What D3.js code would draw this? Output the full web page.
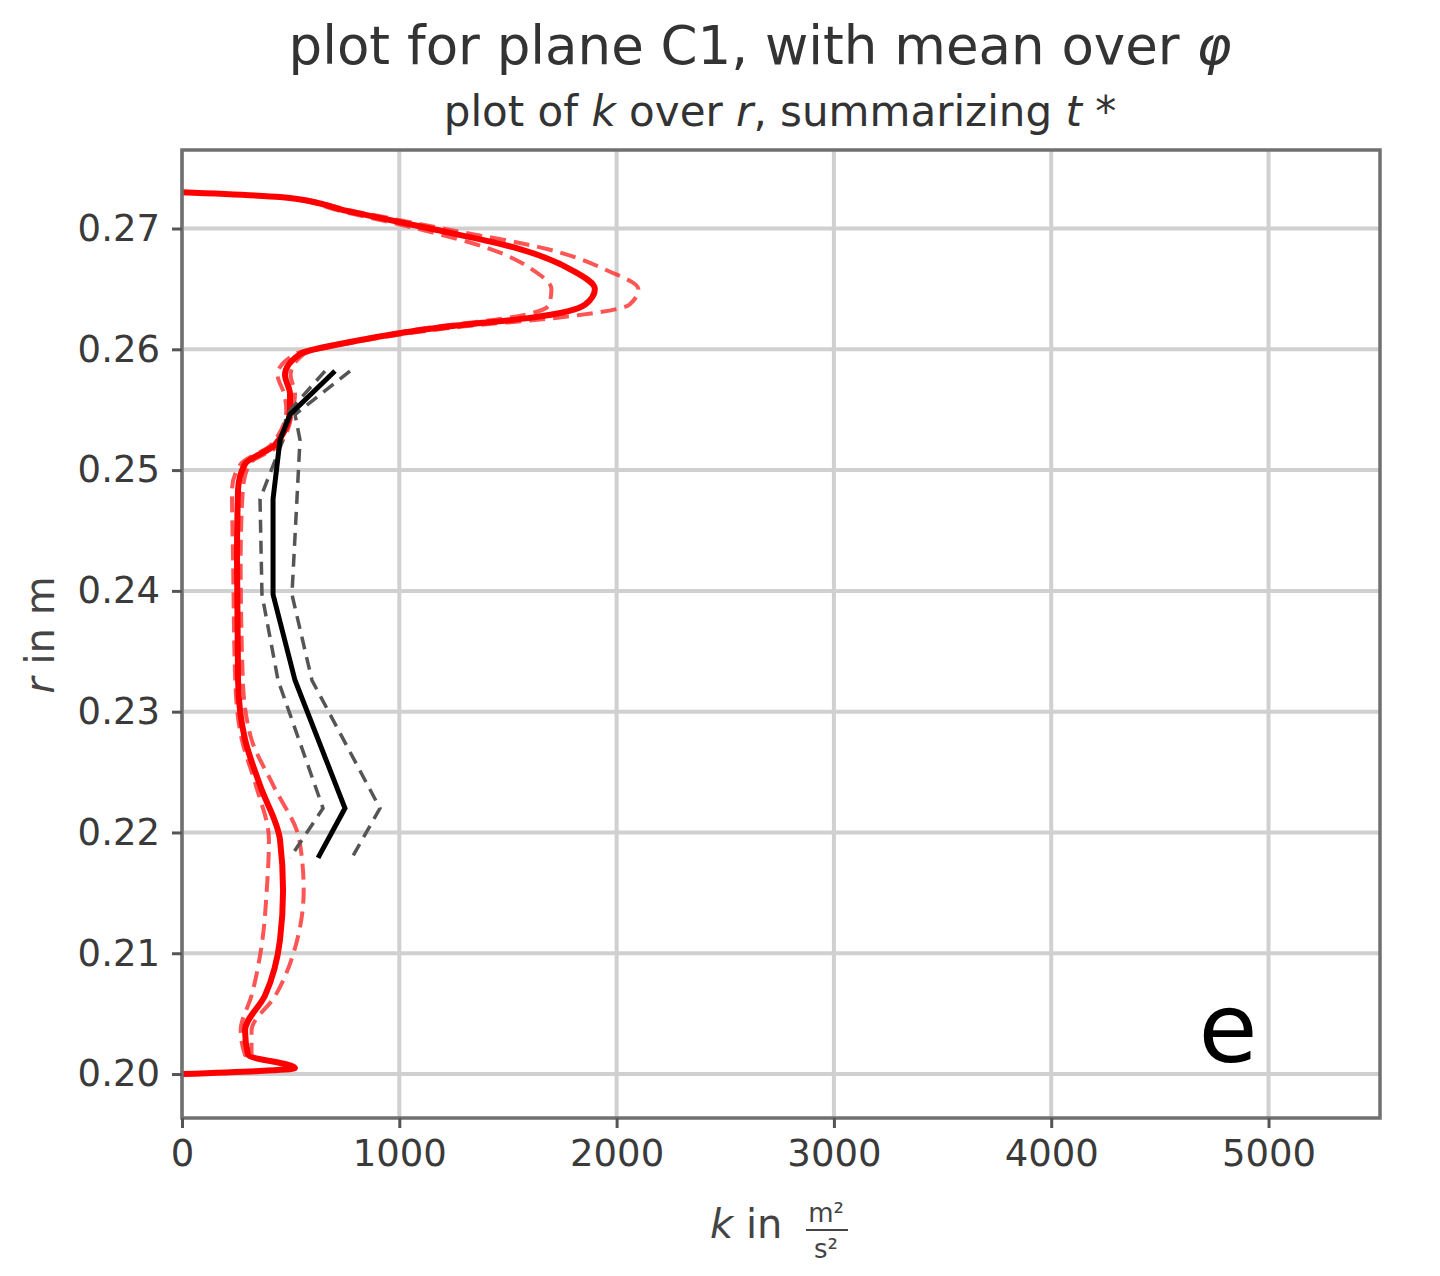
<!DOCTYPE html>
<html>
<head>
<meta charset="utf-8">
<script src="https://cdn.jsdelivr.net/npm/d3@7"></script>
<style>
  body { margin: 0; background: #fff; }
  text { font-family: "DejaVu Sans", sans-serif; }
</style>
</head>
<body>
<div id="chart"></div>
<script>
// DATA
const rVals  = [0.2730,0.2726,0.2714,0.2700,0.2683,0.2665,0.2650,0.2637,0.2626,0.2619,0.2606,0.2596,0.2579,0.2563,0.2550,0.2521,0.2505,0.2484,0.2426,0.2326,0.2277,0.2239,0.2194,0.2152,0.2111,0.2065,0.2036,0.2016,0.2005,0.2000];
const redMean = [0,451,773,1141,1555,1800,1900,1855,1601,1233,773,543,474,497,497,428,290,258,253,258,290,359,451,465,451,382,290,304,520,0];
const redLow  = [0,451,740,1080,1420,1620,1700,1690,1500,1180,760,520,440,470,480,410,270,230,235,245,275,340,400,390,370,320,270,290,520,0];
const redHigh = [0,451,800,1200,1680,1960,2100,2060,1720,1300,800,560,500,520,510,450,310,280,270,280,320,420,540,560,530,430,320,320,520,0];

const rBlack    = [0.2582,0.2546,0.2525,0.2476,0.2397,0.2326,0.2220,0.2179];
const blackMean = [704,497,451,419,419,520,750,626];
const blackLow  = [658,480,465,359,368,442,649,497];
const blackHigh = [773,520,543,529,506,598,911,782];

const xTicks = [0,1000,2000,3000,4000,5000];
const yTicks = [0.20,0.21,0.22,0.23,0.24,0.25,0.26,0.27];

// SVG CANVAS
const width = 1440, height = 1276;
const margin = {top: 150, left: 182, right: 60, bottom: 158};

const svg = d3.select("#chart").append("svg")
    .attr("width", width).attr("height", height);

// SCALES
const xScale = d3.scaleLinear().domain([0, 5513]).range([margin.left, width - margin.right]);
const yScale = d3.scaleLinear().domain([0.19636, 0.2765]).range([height - margin.bottom, margin.top]);

// GRID
const grid = svg.append("g");
grid.selectAll(".gx").data(xTicks).enter().append("line")
    .attr("x1", d => xScale(d)).attr("x2", d => xScale(d))
    .attr("y1", margin.top).attr("y2", height - margin.bottom)
    .attr("stroke", "#d0d0d0").attr("stroke-width", 4);
grid.selectAll(".gy").data(yTicks).enter().append("line")
    .attr("y1", d => yScale(d)).attr("y2", d => yScale(d))
    .attr("x1", margin.left).attr("x2", width - margin.right)
    .attr("stroke", "#d0d0d0").attr("stroke-width", 4);

// LINES
const g = svg.append("g");
function drawLine(ks, rs, color, w, dash, op) {
    const line = d3.line().x(d => xScale(d[0])).y(d => yScale(d[1])).curve(d3.curveMonotoneY);
    g.append("path")
        .datum(ks.map((k, i) => [k, rs[i]]))
        .attr("d", line)
        .attr("fill", "none")
        .attr("stroke", color)
        .attr("stroke-width", w)
        .attr("stroke-opacity", op)
        .attr("stroke-dasharray", dash);
}
drawLine(redLow, rVals, "#ff2a2a", 4, "16,8", 0.8);
drawLine(redHigh, rVals, "#ff2a2a", 4, "16,8", 0.8);
drawLine(redMean, rVals, "#ff0000", 6, null, 1);

const lin = (ks, rs, color, w, dash) => {
    const line = d3.line().x(d => xScale(d[0])).y(d => yScale(d[1]));
    g.append("path").datum(ks.map((k, i) => [k, rs[i]])).attr("d", line)
        .attr("fill", "none").attr("stroke", color).attr("stroke-width", w)
        .attr("stroke-dasharray", dash);
};
lin(blackLow, rBlack, "#555", 3.5, "13,8");
lin(blackHigh, rBlack, "#555", 3.5, "13,8");
lin(blackMean, rBlack, "#000", 5, null);

// FRAME
svg.append("rect")
    .attr("x", margin.left).attr("y", margin.top)
    .attr("width", width - margin.right - margin.left)
    .attr("height", height - margin.bottom - margin.top)
    .attr("fill", "none").attr("stroke", "#707070").attr("stroke-width", 3.5);

// AXES
const xAxis = svg.append("g")
    .attr("transform", `translate(0,${height - margin.bottom})`)
    .call(d3.axisBottom(xScale).tickValues(xTicks).tickFormat(d3.format("d")).tickSize(10).tickPadding(12));
const yAxis = svg.append("g")
    .attr("transform", `translate(${margin.left},0)`)
    .call(d3.axisLeft(yScale).tickValues(yTicks).tickFormat(d3.format(".2f")).tickSize(10).tickPadding(12));
[xAxis, yAxis].forEach(a => {
    a.select(".domain").remove();
    a.selectAll("line").attr("stroke", "#555").attr("stroke-width", 3);
    a.selectAll("text").attr("font-size", 37).attr("fill", "#3a3a3a").attr("font-family", "DejaVu Sans");
});

// TITLES
svg.append("text").attr("x", 760).attr("y", 64).attr("text-anchor", "middle")
    .attr("font-size", 53).attr("fill", "#333")
    .html('plot for plane C1, with mean over <tspan font-style="italic">φ</tspan>');
svg.append("text").attr("x", 780).attr("y", 126).attr("text-anchor", "middle")
    .attr("font-size", 42).attr("fill", "#333")
    .html('plot of <tspan font-style="italic">k</tspan> over <tspan font-style="italic">r</tspan>, summarizing <tspan font-style="italic">t</tspan> *');

// AXIS LABELS
svg.append("text").attr("x", 710).attr("y", 1238).attr("font-size", 40).attr("fill", "#444")
    .html('<tspan font-style="italic">k</tspan> in');
svg.append("text").attr("x", 826).attr("y", 1222).attr("text-anchor", "middle").attr("font-size", 26).attr("fill", "#444").text("m²");
svg.append("line").attr("x1", 806).attr("x2", 848).attr("y1", 1230).attr("y2", 1230).attr("stroke", "#444").attr("stroke-width", 2);
svg.append("text").attr("x", 826).attr("y", 1258).attr("text-anchor", "middle").attr("font-size", 26).attr("fill", "#444").text("s²");

svg.append("text").attr("transform", "rotate(-90)")
    .attr("x", -635).attr("y", 54).attr("text-anchor", "middle")
    .attr("font-size", 40).attr("fill", "#444")
    .html('<tspan font-style="italic">r</tspan> in m');

// PANEL LETTER
svg.append("text").attr("x", 1228).attr("y", 1062).attr("text-anchor", "middle")
    .attr("font-size", 96).attr("fill", "#000").attr("font-family", "Open Sans").text("e");
</script>
</body>
</html>
